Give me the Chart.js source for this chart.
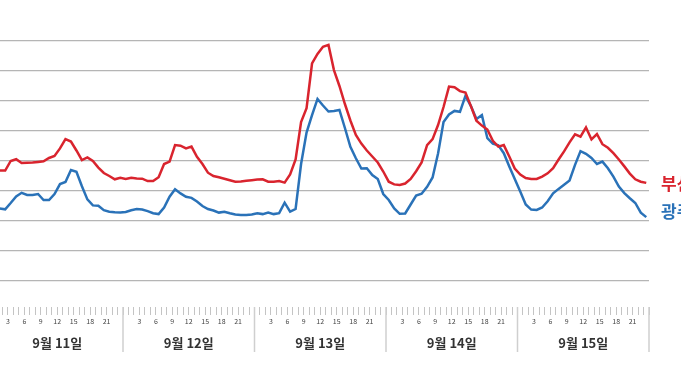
<!DOCTYPE html>
<html>
<head>
<meta charset="utf-8">
<script src="https://cdn.jsdelivr.net/npm/chart.js@4.4.1/dist/chart.umd.min.js"></script>
<style>
  html, body { margin: 0; padding: 0; background: #fff; overflow: hidden; }
  #wrap { position: absolute; left: -20px; top: 0; width: 720px; height: 380px; }
</style>
</head>
<body>
<div id="wrap"><canvas id="chart"></canvas></div>
<script>
// hourly values, 9/11 01h .. 9/15 24h
const days = ['9월 11일', '9월 12일', '9월 13일', '9월 14일', '9월 15일']
const hourLabels = [3, 6, 9, 12, 15, 18, 21]
const gridValues = [10, 20, 30, 40, 50, 60, 70, 80, 90]

const busan = [
  47, 46.8, 46.8, 50, 50.6, 49.3, 49.4, 49.5, 49.7, 49.9, 51, 51.7, 54.2, 57.3, 56.5, 53.5, 50.3, 51.2, 50, 47.8, 46, 45, 43.9, 44.4,
  44, 44.4, 44.2, 44.1, 43.3, 43.3, 44.6, 49, 49.8, 55.3, 55.1, 54.2, 54.8, 51.4, 49, 46.1, 45, 44.6, 44.1, 43.6, 43.1, 43.2, 43.4, 43.6,
  43.8, 43.9, 43.1, 43.1, 43.3, 42.8, 45.5, 50.5, 63, 67.6, 82.5, 85.7, 88.1, 88.7, 80.3, 75, 69, 63.5, 58.7, 55.8, 53.5, 51.5, 49.5, 46.5,
  43.1, 42.2, 42, 42.5, 44, 46.6, 49.5, 55.3, 57.3, 62, 68, 74.8, 74.6, 73.3, 72.8, 68.3, 63.4, 61.8, 60.5, 56.7, 54.8, 55.3, 51.5, 47.5,
  45.5, 44.3, 44, 44, 44.8, 45.9, 47.6, 50.5, 53.2, 56.2, 58.9, 58.1, 61.2, 57.2, 59, 55.6, 54.4, 52.6, 50.5, 48.2, 45.8, 43.9, 43.1, 42.7
]
const gwangju = [
  34.3, 34.2, 33.9, 36, 38.2, 39.4, 38.7, 38.7, 39, 37, 37, 39, 42.3, 43, 47, 46.4, 41.6, 37.2, 35.2, 35.1, 33.6, 33.1, 32.9, 32.8,
  33, 33.6, 34, 33.8, 33.3, 32.6, 32.3, 34.5, 38.1, 40.6, 39.2, 38.1, 37.7, 36.5, 35, 34, 33.5, 32.8, 33.1, 32.6, 32.2, 32, 32, 32.2,
  32.6, 32.3, 32.8, 32.3, 32.6, 36.1, 33.1, 34, 49, 59.5, 65.3, 70.7, 68.5, 66.5, 66.7, 67, 61, 54.7, 50.9, 47.5, 47.6, 45.3, 44, 39,
  37, 34.2, 32.4, 32.5, 35.5, 38.5, 39.1, 41.4, 44.5, 52.5, 63, 65.5, 66.7, 66.4, 71.7, 68.3, 64, 65.3, 57.6, 55.8, 55.2, 52.6, 48.2, 44,
  39.8, 35.5, 33.8, 33.7, 34.5, 36.6, 39.2, 40.7, 42.1, 43.5, 48.7, 53.3, 52.4, 51, 49, 49.8, 47.6, 44.8, 41.5, 39.3, 37.6, 36, 32.8, 31.3
]

const RED = '#d9242e'
const BLUE = '#2a72b8'
const KR = '"Noto Sans CJK KR", "Noto Sans", sans-serif'

function toPoints(arr) {
    return arr.map((v, i) => ({x: i + 0.5, y: v}))
}

// day names, separators and end labels
const extras = {
    id: 'extras',
    afterDraw(chart) {
        const ctx = chart.ctx
        const xs = chart.scales.x
        const area = chart.chartArea
        ctx.save()
        ctx.strokeStyle = '#cfcfcf'
        ctx.lineWidth = 1.5
        for (let d = 0; d <= days.length; d++) {
            let x = xs.getPixelForValue(d * 24)
            ctx.beginPath()
            ctx.moveTo(x, area.bottom)
            ctx.lineTo(x, area.bottom + 45)
            ctx.stroke()
        }
        ctx.fillStyle = '#333'
        ctx.font = 'bold 13px ' + KR
        ctx.textAlign = 'center'
        ctx.textBaseline = 'middle'
        days.forEach((d, i) => {
            ctx.fillText(d, xs.getPixelForValue(i * 24 + 12), area.bottom + 36)
        })
        // series names at line ends
        const dy = [1, -6]
        ctx.font = 'bold 17px ' + KR
        ctx.textAlign = 'left'
        chart.data.datasets.forEach((ds, i) => {
            let pts = chart.getDatasetMeta(i).data
            let last = pts[pts.length - 1]
            ctx.fillStyle = ds.borderColor
            ctx.fillText(ds.label, area.right + 12, last.y + dy[i])
        })
        ctx.restore()
    }
}

new Chart(document.getElementById('chart'), {
    type: 'line',
    data: {
        datasets: [
            {label: '부산', data: toPoints(busan), borderColor: RED, borderWidth: 2.5, pointRadius: 0, tension: 0},
            {label: '광주', data: toPoints(gwangju), borderColor: BLUE, borderWidth: 2.5, pointRadius: 0, tension: 0}
        ]
    },
    options: {
        responsive: true,
        maintainAspectRatio: false,
        animation: false,
        events: [],
        layout: {padding: {left: 11.5, right: 51, top: 41, bottom: 0}},
        plugins: {legend: {display: false}, tooltip: {enabled: false}},
        scales: {
            x: {
                type: 'linear',
                min: 0,
                max: days.length * 24,
                afterBuildTicks: s => {
                    let t = []
                    for (let h = 0; h <= days.length * 24; h++) t.push({value: h})
                    s.ticks = t
                },
                afterFit: s => { s.height = 73 },
                border: {display: false},
                grid: {drawOnChartArea: false, drawTicks: true, tickLength: 8, color: '#c4c4c4', lineWidth: 1},
                ticks: {
                    autoSkip: false,
                    maxRotation: 0,
                    padding: 2,
                    color: '#444',
                    font: {family: KR, size: 7},
                    callback: v => hourLabels.includes(v % 24) ? String(v % 24) : ''
                }
            },
            y: {
                min: 4 / 3,
                max: 90,
                afterBuildTicks: s => { s.ticks = gridValues.map(v => ({value: v})) },
                afterFit: s => { s.width = 0 },
                border: {display: false},
                grid: {color: '#b5b5b5', lineWidth: 1.2, drawTicks: false},
                ticks: {display: false}
            }
        }
    },
    plugins: [extras]
})
</script>
</body>
</html>
